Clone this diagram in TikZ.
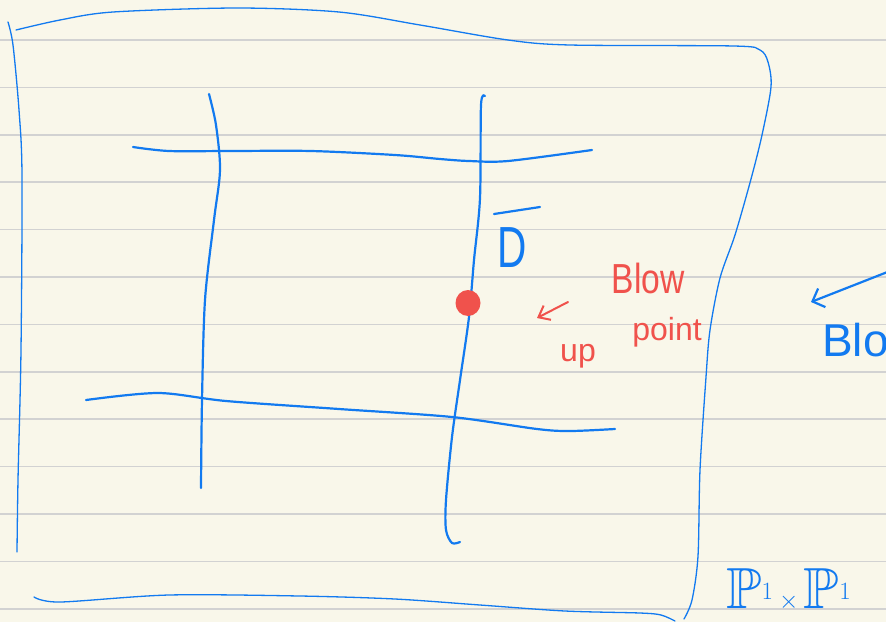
\documentclass[tikz,border=0pt]{standalone}
\usepackage{amssymb}
\usepackage{fontspec}
\setmainfont{Liberation Sans}
\usetikzlibrary{arrows.meta,shapes.geometric}
\definecolor{paper}{RGB}{249,247,234}
\definecolor{rulecol}{RGB}{210,210,210}
\definecolor{ink}{RGB}{18,122,240}
\definecolor{redink}{RGB}{240,82,76}
\tikzset{
  frame/.style={ink, line width=1.3pt, line cap=round, line join=round},
  pen/.style={ink, line width=2.2pt, line cap=round, line join=round},
  redpen/.style={redink, line width=2pt, line cap=round, line join=round},
  bluetext/.style={text=ink, inner sep=0pt},
  redtext/.style={text=redink, inner sep=0pt},
}
\begin{document}
\begin{tikzpicture}[x=1pt,y=-1pt]
\useasboundingbox (0,0) rectangle (886,622);
\fill[paper] (0,0) rectangle (886,622);
\clip (0,0) rectangle (886,622);
\foreach \y in {40,87.3,134.8,182.2,229.6,277,324.4,371.8,419.2,466.6,514,561.4,608.8}
  \draw[rulecol, line width=1.6pt] (0,\y) -- (886,\y);
% outer frame
\draw[frame] plot[smooth] coordinates {(8,22) (13,45) (19,110) (22,175) (21,350) (18,480) (17,552)};
\draw[frame] plot[smooth] coordinates {(16,30) (60,20) (113,12) (237,8) (339,12) (420,25) (508,40) (570,45) (734,46) (760,50) (768,62) (771,87) (762,135) (751,179) (735,235) (720,278) (710,330) (706,377) (700,470) (698,556) (692,600) (684,619)};
\draw[frame] plot[smooth] coordinates {(34,597) (60,602) (169,595) (300,596) (395,599) (480,605) (565,611) (640,613) (661,615) (675,621)};
% inner grid
\draw[pen] plot[smooth] coordinates {(209,94) (216,125) (220,170) (214,220) (205,300) (202,400) (201,488)};
\draw[pen] plot[smooth] coordinates {(485,96) (481,105) (480,198) (474,260) (469,317) (460,380) (452,437) (446,500) (446,530) (452,543) (460,542)};
\draw[pen] plot[smooth] coordinates {(133,147) (169,151) (230,151) (311,151) (395,155) (440,159) (469,161) (508,161) (592,150)};
\draw[pen] plot[smooth] coordinates {(86,400) (158,393) (226,401) (339,409) (452,417) (537,429) (570,431) (615,429)};
% blow-up point
\node[ellipse, fill=redink, minimum width=25pt, minimum height=26pt, inner sep=0pt] (dot) at (468,303) {};
% D bar
\draw[pen] (494,214) -- (540,207);
\node[bluetext, font=\fontsize{58}{60}\selectfont, xscale=0.7] (D) at (512,248) {D};
% red label
\coordinate (rtail) at (568,302);
\coordinate (rhead) at (537,318);
\draw[redpen, -{Straight Barb[length=10pt,width=16pt]}] (rtail) -- (rhead);
\node[redtext, font=\fontsize{42}{44}\selectfont, xscale=0.8] (blow) at (648,278) {Blow};
\node[redtext, font=\fontsize{32}{34}\selectfont] (up) at (578,356) {up};
\node[redtext, font=\fontsize{32}{34}\selectfont] (point) at (667,332) {point};
% right side
\coordinate (rstart) at (890,271);
\coordinate (rend) at (811,302);
\draw[pen, -{Straight Barb[length=10pt,width=20pt]}] (rstart) -- (rend);
\node[bluetext, font=\fontsize{46}{48}\selectfont, anchor=west] (bl) at (822,340) {Blow};
% P1 x P1
\node[bluetext, font=\fontsize{58}{60}\selectfont, anchor=west] (pp) at (726,590) {$\mathbb{P}^1\times\mathbb{P}^1$};
\end{tikzpicture}
\end{document}
